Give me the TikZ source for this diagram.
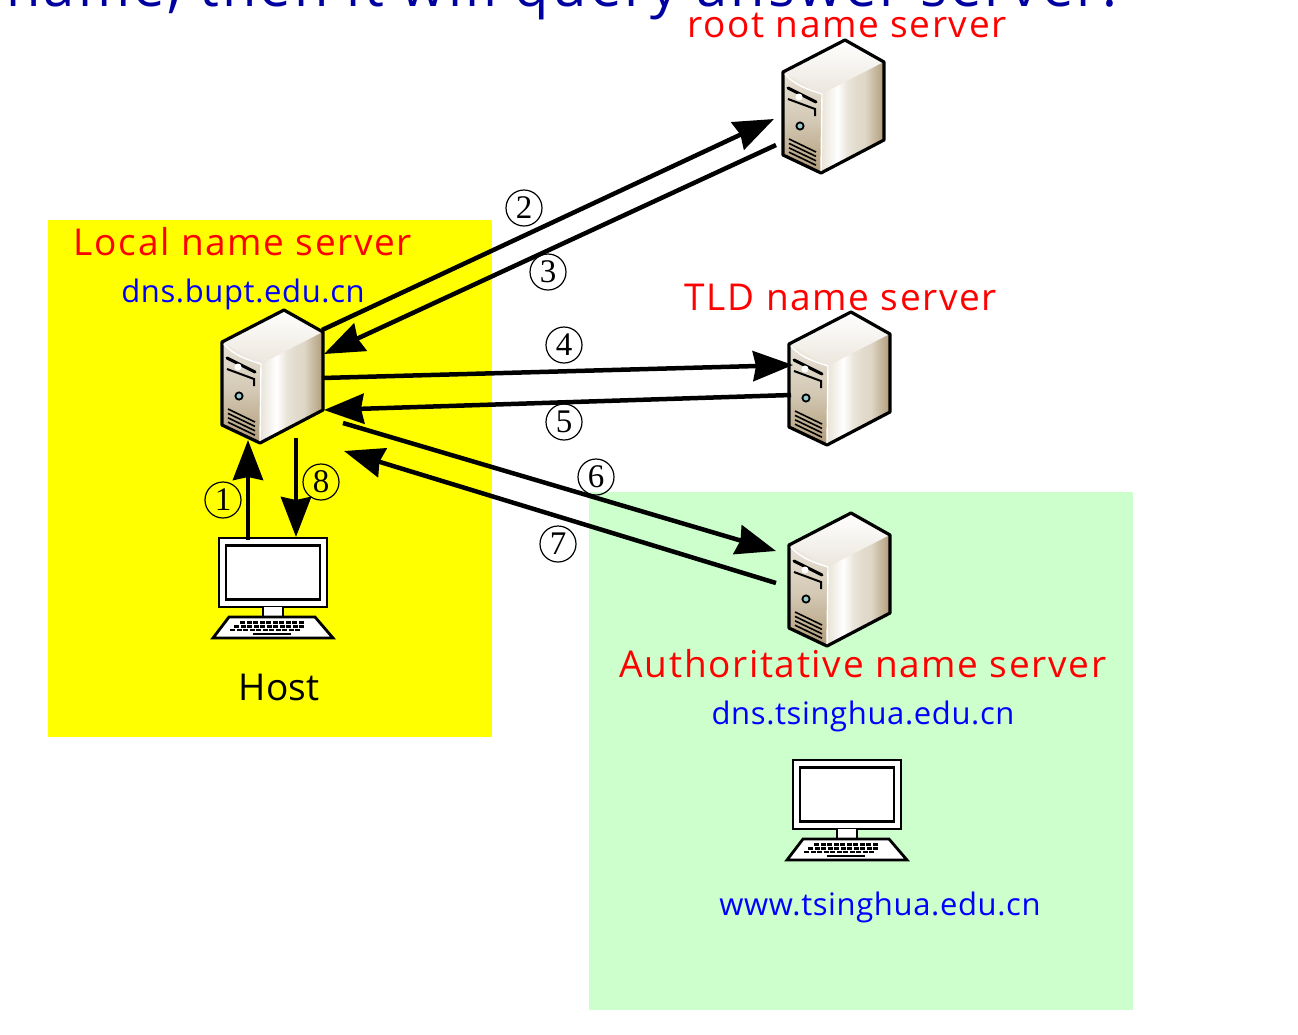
\documentclass[tikz,border=0pt]{standalone}
\usepackage{fontspec}
\setmainfont{Open Sans}
\newfontfamily\titlefont[LetterSpace=5.7]{Open Sans}
\newfontfamily\redfont[LetterSpace=4.5]{Open Sans}
\newfontfamily\bluefont[LetterSpace=2]{Open Sans}
\newfontfamily\numfont{Liberation Serif}
\usetikzlibrary{arrows.meta,calc}
\definecolor{srvtan}{RGB}{176,155,120}
\definecolor{srvmid}{RGB}{222,214,198}
\definecolor{titleblue}{RGB}{0,0,160}
\definecolor{paleg}{RGB}{204,255,204}
\definecolor{pureyellow}{RGB}{255,255,0}
\definecolor{pureblue}{RGB}{0,0,255}
\definecolor{purered}{RGB}{255,0,0}
\pgfdeclarehorizontalshading{srvright}{100bp}{
  color(0bp)=(srvmid!70!white); color(25bp)=(srvmid!70!white); color(38bp)=(white); color(46bp)=(srvmid!65!white);
  color(52bp)=(srvmid!85!white); color(60bp)=(srvmid); color(75bp)=(srvtan); color(100bp)=(srvtan)}
\pgfdeclareverticalshading{srvfront}{100bp}{
  color(0bp)=(srvtan); color(25bp)=(srvtan); color(50bp)=(srvmid!75!srvtan); color(75bp)=(srvmid!70!white); color(100bp)=(srvmid!70!white)}
\tikzset{
  x=1pt,y=-1pt,
  lbl/.style={anchor=base,inner sep=0pt,font=\fontsize{#1}{#1}\selectfont},
  redlbl/.style={anchor=base,inner sep=0pt,font=\redfont\fontsize{37}{37}\selectfont,text=purered},
  bluelbl/.style={anchor=base,inner sep=0pt,font=\bluefont\fontsize{31}{31}\selectfont,text=pureblue},
  num/.style={circle,draw,line width=1.2pt,inner sep=0pt,minimum size=36pt,font=\numfont\fontsize{33}{33}\selectfont},
  anchorbox/.style={inner sep=0pt,minimum width=104pt,minimum height=134pt},
  pcbox/.style={inner sep=0pt,minimum width=122pt,minimum height=102pt},
  conn/.style={line width=4.5pt,-{Stealth[length=40pt,width=30pt,inset=3pt]}},
  edge/.style={line width=3.2pt,line join=round},
  pcedge/.style={line width=2.8pt,line join=miter},
  server/.pic={
    % origin = apex of the top face, coordinates in picture pixels
    \fill[srvmid!60!white] (0,0)--(39,22)--(39,100)--(-24,133)--(-62,115)--(-62,32)--cycle;
    \shade[top color=white,bottom color=srvmid!60!white] (0,0)--(39,22)--(-23,54)--(-62,32)--cycle;
    \shade[shading=srvfront] (-62,32) .. controls (-50,46) and (-35,50) .. (-23,54)--(-24,133)--(-62,115)--cycle;
    \shade[shading=srvright] (-23,54)--(39,22)--(39,100)--(-24,133)--cycle;
    \draw[edge] (0,0)--(39,22)--(39,100)--(-24,133)--(-62,115)--(-62,32)--cycle;
    \draw[white,line width=1.4pt] (-60,34) .. controls (-50,46) and (-35,50) .. (-23,54) -- (-24,131);
    \draw[line width=3pt,line cap=round] (-57,48)--(-29,62);
    \draw[line width=2pt] (-57,59)--(-30,69)--(-30,76);
    \fill[white] (-46,57) circle (3.5);
    \draw[line width=1.8pt,fill=teal!40] (-45,86) circle (3.6);
    \foreach \d in {0,4.4,8.8,13.2}
      \draw[line width=1.6pt] (-56,\d+99)--(-29,\d+112);
  },
  computer/.pic={
    % origin = top-left corner of the monitor
    \fill[white] (0,0) rectangle (108,69);
    \draw[pcedge] (0,0) rectangle (108,69);
    \draw[pcedge] (7,7.5) rectangle (101,61.5);
    \fill[white] (44,69) rectangle (64,79);
    \draw[pcedge] (44,69)--(44,79) (64,69)--(64,79);
    \draw[pcedge,fill=white] (10,79)--(96,79)--(114,100)--(-6,100)--cycle;
    \foreach \r/\x/\n in {0/21/10,1/15/11,2/11/11}
      \foreach \k in {1,...,\n}
        \fill ($(\x,83+\r*3.8)+(\k*6.5-6.5,0)$) rectangle ++(5,2.7);
    \fill (34,96.5) rectangle (72,94.5);
  }
}
\begin{document}
\begin{tikzpicture}
\useasboundingbox (0,0) rectangle (1298,1034);
\clip (0,0) rectangle (1298,1034);
\fill[white] (0,0) rectangle (1298,1034);
\fill[pureyellow] (48,220) rectangle (492,737);
\fill[paleg] (589,492) rectangle (1133,1010);

\node[anchor=base east,inner sep=0pt,font=\titlefont\fontsize{56}{56}\selectfont,text=titleblue] (title) at (1118,6) {name, then it will query answer server.};

\pic at (284,310) {server};
\pic at (845,40) {server};
\pic at (851,312) {server};
\pic at (851,513) {server};
\pic at (219,538) {computer};
\pic at (793,760) {computer};

\node[anchorbox] (local) at (272,377) {};
\node[anchorbox] (root) at (833,107) {};
\node[anchorbox] (tld) at (839,379) {};
\node[anchorbox] (auth) at (839,580) {};
\node[pcbox] (host) at (273,589) {};
\node[pcbox] (web) at (847,811) {};

\draw[conn] ([shift={(50,-47)}]local.center) -- ([shift={(-59,12)}]root.center);
\draw[conn] ([shift={(-57,38)}]root.center) -- ([shift={(52,-23)}]local.center);
\draw[conn] ([shift={(50,1)}]local.center) -- ([shift={(-46,-14)}]tld.center);
\draw[conn] ([shift={(-48,16)}]tld.center) -- ([shift={(52,33)}]local.center);
\draw[conn] ([shift={(71,46)}]local.center) -- ([shift={(-63,-29)}]auth.center);
\draw[conn] ([shift={(-63,3)}]auth.center) -- ([shift={(72,74)}]local.center);
\draw[conn] ([shift={(-25,-49)}]host.center) -- ([shift={(-24,63)}]local.center);
\draw[conn] ([shift={(24,61)}]local.center) -- ([shift={(23,-52)}]host.center);

\node[redlbl] (rootlbl) at (847,37) {root name server};
\node[redlbl] (locallbl) at (243,255) {Local name server};
\node[bluelbl] (bupt) at (243,302) {dns.bupt.edu.cn};
\node[redlbl] (tldlbl) at (841,310) {TLD name server};
\node[redlbl] (authlbl) at (863,677) {Authoritative name server};
\node[bluelbl] (thudns) at (863,724) {dns.tsinghua.edu.cn};
\node[bluelbl] (thuwww) at (880,915) {www.tsinghua.edu.cn};
\node[lbl=37,text=black] (hostlbl) at (279,700) {Host};

\node[num] (n1) at (223,500) {1};
\node[num] (n2) at (524,208) {2};
\node[num] (n3) at (548,272) {3};
\node[num] (n4) at (564,345) {4};
\node[num] (n5) at (564,422) {5};
\node[num] (n6) at (596,477) {6};
\node[num] (n7) at (558,544) {7};
\node[num] (n8) at (321,482) {8};
\end{tikzpicture}
\end{document}
